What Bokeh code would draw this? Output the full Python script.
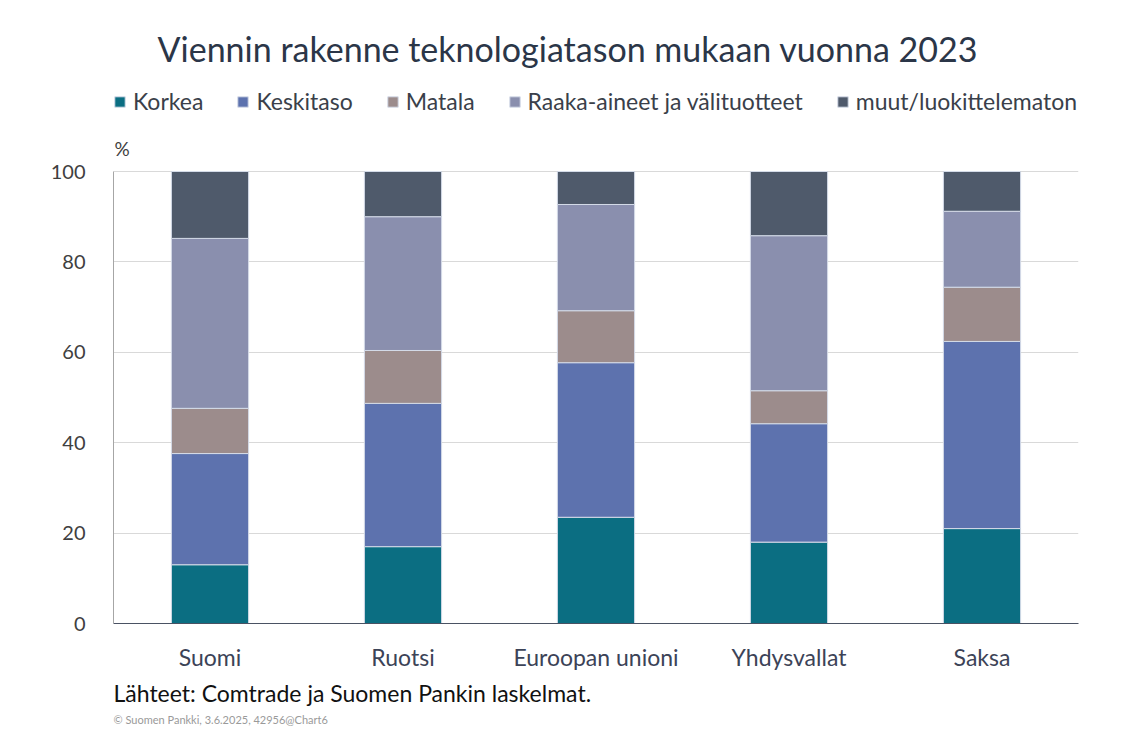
from bokeh.plotting import figure
from bokeh.models import Legend, LegendItem, FactorRange, ColumnDataSource, FixedTicker, Title, Label
from bokeh.embed import file_html
from bokeh.resources import INLINE

countries = ["Suomi", "Ruotsi", "Euroopan unioni", "Yhdysvallat", "Saksa"]
series = ["Korkea", "Keskitaso", "Matala", "Raaka-aineet ja välituotteet", "muut/luokittelematon"]
korkea = [13.0, 17.0, 23.5, 18.0, 21.0]
keskitaso = [24.6, 31.7, 34.2, 26.2, 41.4]
matala = [10.0, 11.7, 11.5, 7.3, 12.0]
raaka = [37.6, 29.6, 23.5, 34.3, 16.8]
muut = [14.8, 10.0, 7.3, 14.2, 8.8]
colors = ["#0b6e82", "#5d72ae", "#9c8c8c", "#8a8fae", "#4f5a6b"]
y_ticks = [0, 20, 40, 60, 80, 100]

FONT = "Lato"
keys = ["korkea", "keskitaso", "matala", "raaka", "muut"]
source = ColumnDataSource(dict(x=countries, korkea=korkea, keskitaso=keskitaso,
                               matala=matala, raaka=raaka, muut=muut))

PLOT_H = 452          # pixels from 0 to 100 %
FRAME_H = 548         # frame extends upward to hold the legend
y_top = 100 * FRAME_H / PLOT_H

p = figure(x_range=FactorRange(*countries, range_padding=0), y_range=(0, y_top),
           frame_width=965, frame_height=FRAME_H, output_backend="svg", toolbar_location=None,
           min_border_left=113, min_border_right=40, min_border_top=75, min_border_bottom=105)

renderers = p.vbar_stack(keys, x="x", width=0.4, source=source, color=colors,
                         line_color="#d4dbe8", line_width=1)

p.outline_line_color = None
p.background_fill_color = "white"
p.border_fill_color = "white"

p.yaxis.ticker = FixedTicker(ticks=y_ticks)
p.yaxis.bounds = (0, 100)
p.ygrid.grid_line_color = "#d9d9d9"
p.ygrid.grid_line_width = 1
p.xgrid.grid_line_color = None
p.yaxis.axis_line_color = "#a6a6a6"
p.yaxis.major_tick_line_color = None
p.yaxis.minor_tick_line_color = None
p.yaxis.major_label_text_font = FONT
p.yaxis.major_label_text_font_size = "20px"
p.yaxis.major_label_text_color = "#404040"
p.yaxis.major_label_standoff = 22

p.xaxis.axis_line_color = "#4a5263"
p.xaxis.axis_line_width = 1
p.xaxis.major_tick_line_color = None
p.xaxis.minor_tick_line_color = None
p.xaxis.major_label_text_font = FONT
p.xaxis.major_label_text_font_size = "23px"
p.xaxis.major_label_text_color = "#3c4357"
p.xaxis.major_label_standoff = 13

items = [LegendItem(label=s, renderers=[r]) for s, r in zip(series, renderers)]
legend = Legend(items=items, orientation="horizontal", location=(0, 508),
                label_text_font=FONT, label_text_font_size="23px", label_text_color="#3a3f4a",
                glyph_width=13, glyph_height=13, label_standoff=7, spacing=33,
                border_line_color=None, background_fill_alpha=0, padding=0, margin=0)
p.add_layout(legend, "center")

p.add_layout(Label(x=1, y=475, x_units="screen", y_units="screen", text="%",
                   text_font=FONT, text_font_size="19px", text_color="#404040",
                   text_align="left", text_baseline="middle"))

main = Title(text="Viennin rakenne teknologiatason mukaan vuonna 2023", align="left",
             offset=44, standoff=13, text_font=FONT, text_font_size="34px",
             text_font_style="normal", text_color="#2b3648")
p.add_layout(main, "above")

src = Title(text="Lähteet: Comtrade ja Suomen Pankin laskelmat.", align="left", offset=0,
            standoff=7, text_font=FONT, text_font_size="23px", text_font_style="normal",
            text_color="#111111")
p.add_layout(src, "below")
cpy = Title(text="© Suomen Pankki, 3.6.2025, 42956@Chart6", align="left", offset=0,
            standoff=0, text_font=FONT, text_font_size="11px", text_font_style="normal",
            text_color="#9a9a9a")
p.add_layout(cpy, "below")

open("out.html", "w").write(file_html(p, INLINE))
